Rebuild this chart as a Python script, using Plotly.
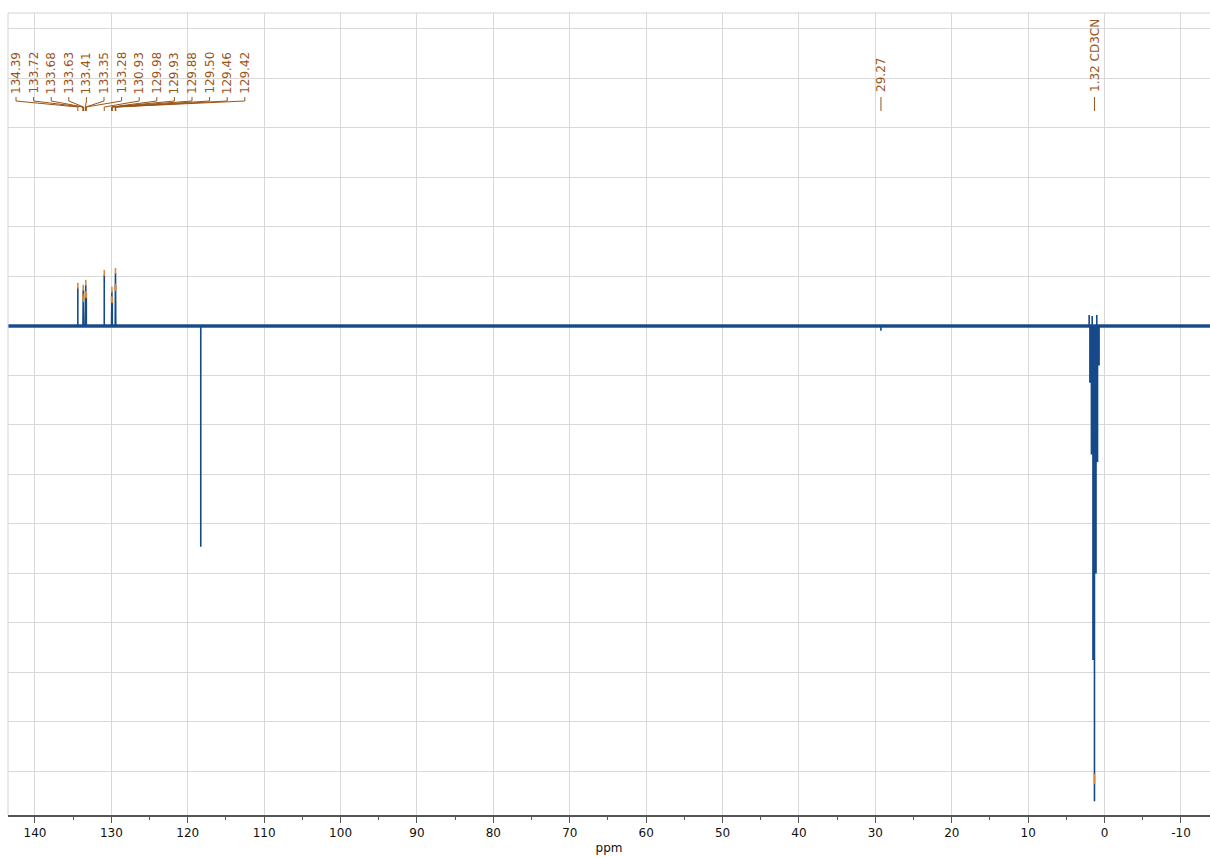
import plotly.graph_objects as go

# ---------------- data ----------------
# labelled aromatic peaks (ppm) and their heights (arbitrary units, baseline = 0)
arom_ppm = [134.39, 133.72, 133.68, 133.63, 133.41, 133.35, 133.28,
            130.93, 129.98, 129.93, 129.88, 129.50, 129.46, 129.42]
arom_h = [0.77, 0.55, 0.73, 0.50, 0.60, 0.83, 0.58,
          1.03, 0.50, 0.69, 0.48, 0.75, 1.07, 0.72]
# other peaks (negative phase)
other_ppm = [118.30, 29.27]
other_h = [-4.46, -0.10]
# CD3CN septet around 1.32 ppm
solv_ppm = [2.02, 1.92, 1.72, 1.62, 1.52, 1.32, 1.12, 1.02, 0.92, 0.72]
solv_h = [0.22, -1.15, -2.60, 0.20, -6.75, -9.60, -5.00, 0.22, -2.75, -0.80]

arom_labels = ["134.39", "133.72", "133.68", "133.63", "133.41", "133.35", "133.28",
               "130.93", "129.98", "129.93", "129.88", "129.50", "129.46", "129.42"]
single_labels = ["29.27", "1.32 CD3CN"]
single_ppm = [29.27, 1.32]

tick_vals = [140, 130, 120, 110, 100, 90, 80, 70, 60, 50, 40, 30, 20, 10, 0, -10]
tick_text = ["140", "130", "120", "110", "100", "90", "80", "70", "60", "50",
             "40", "30", "20", "10", "0", "-10"]

# ---------------- layout constants ----------------
W, H = 1210, 857
ML, MR, MT, MB = 8, 0, 13, 42
X_RANGE = [143.53, -13.80]
Y_RANGE = [-9.88, 6.32]
PX_PER_PPM = (W - ML - MR) / (X_RANGE[0] - X_RANGE[1])
PX_PER_UNIT = (H - MT - MB) / (Y_RANGE[1] - Y_RANGE[0])

BLUE = "#15498a"
BROWN = "#9a5518"
ORANGE = "#d68a3c"


def px_to_ppm(px):
    return X_RANGE[0] - (px - ML) / PX_PER_PPM


def py_to_y(py):
    return Y_RANGE[1] - (py - MT) / PX_PER_UNIT


# ---------------- spectrum path built from the peak lists ----------------
all_ppm = arom_ppm + other_ppm + solv_ppm
all_h = arom_h + other_h + solv_h
pairs = sorted(zip(all_ppm, all_h), key=lambda t: -t[0])
sx, sy = [X_RANGE[0]], [0.0]
for p, h in pairs:
    sx += [p, p, p]
    sy += [0.0, h, 0.0]
sx.append(X_RANGE[1])
sy.append(0.0)

fig = go.Figure()

# baseline band (noise thickness)
fig.add_trace(go.Scatter(x=[X_RANGE[0], X_RANGE[1]], y=[0, 0], mode="lines",
                         line=dict(color="#1f5290", width=3.5), hoverinfo="skip",
                         showlegend=False))
# spectrum
fig.add_trace(go.Scatter(x=sx, y=sy, mode="lines",
                         line=dict(color=BLUE, width=1.6), hoverinfo="skip",
                         showlegend=False))

# orange peak-pick markers on top of peaks
mx, my = [], []
for p, h in zip(arom_ppm, arom_h):
    mx += [p, p, None]
    my += [h - 0.02, h + 0.10, None]
mx += [1.32, 1.32, None]
my += [-9.05, -9.25, None]
fig.add_trace(go.Scatter(x=mx, y=my, mode="lines",
                         line=dict(color=ORANGE, width=1.6), hoverinfo="skip",
                         showlegend=False))

# label connectors for the aromatic multiplet labels
annotations = []
cx, cy = [], []
first_px = 16.0
step_px = 17.6
for i, (lab, p) in enumerate(zip(arom_labels, arom_ppm)):
    lx = px_to_ppm(first_px + step_px * i)
    cx += [lx, lx, p, p, None]
    cy += [py_to_y(97), py_to_y(101), py_to_y(107), py_to_y(111), None]
    annotations.append(dict(x=lx, y=py_to_y(96), xref="x", yref="y", text=lab,
                            showarrow=False, textangle=-90, xanchor="center",
                            yanchor="bottom", font=dict(family="DejaVu Sans", size=12,
                                                        color=BROWN)))
for lab, p in zip(single_labels, single_ppm):
    cx += [p, p, None]
    cy += [py_to_y(97), py_to_y(111), None]
    annotations.append(dict(x=p, y=py_to_y(94), xref="x", yref="y", text=lab,
                            showarrow=False, textangle=-90, xanchor="center",
                            yanchor="bottom", font=dict(family="DejaVu Sans", size=12,
                                                        color=BROWN)))
fig.add_trace(go.Scatter(x=cx, y=cy, mode="lines",
                         line=dict(color=BROWN, width=1), hoverinfo="skip",
                         showlegend=False))

fig.update_layout(
    width=W, height=H,
    margin=dict(l=ML, r=MR, t=MT, b=MB),
    paper_bgcolor="white", plot_bgcolor="white",
    font=dict(family="DejaVu Sans", size=12, color="#111111"),
    annotations=annotations,
    shapes=[
        dict(type="line", xref="paper", yref="paper", x0=0, x1=1, y0=1, y1=1,
             line=dict(color="#d4d4d4", width=1)),
        dict(type="line", xref="paper", yref="paper", x0=0, x1=0, y0=0, y1=1,
             line=dict(color="#d4d4d4", width=1)),
    ],
)
fig.update_xaxes(
    range=X_RANGE, tickvals=tick_vals, ticktext=tick_text,
    showgrid=True, gridcolor="#d9d9d9", gridwidth=1,
    showline=True, linecolor="#555555", linewidth=2,
    ticks="outside", ticklen=6, tickcolor="#555555", tickwidth=1,
    minor=dict(dtick=5, tick0=0, ticks="outside", ticklen=3, tickcolor="#555555",
               showgrid=False),
    zeroline=False,
    tickfont=dict(family="DejaVu Sans", size=12, color="#111111"),
    title=dict(text="ppm", font=dict(family="DejaVu Sans", size=12, color="#111111"),
               standoff=4),
)
fig.update_yaxes(
    range=Y_RANGE, dtick=1, tick0=0, showgrid=True, gridcolor="#d9d9d9", gridwidth=1,
    showticklabels=False, zeroline=False, showline=False, ticks="",
)

fig.write_html("out.html")
